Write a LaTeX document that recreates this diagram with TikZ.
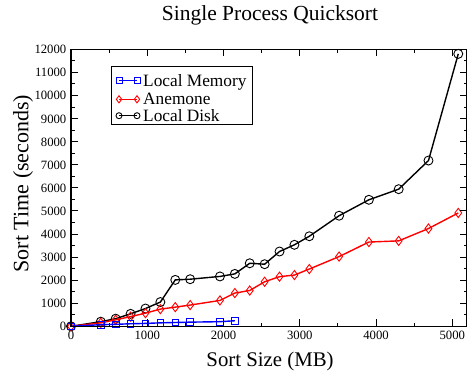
\documentclass[tikz,border=0pt]{standalone}
\usepackage{fontspec}
\setmainfont{Liberation Serif}
\usetikzlibrary{plotmarks}
\begin{document}
\begin{tikzpicture}[x=1pt,y=-1pt,
  frame/.style={line width=1.1pt},
  tickmark/.style={line width=0.9pt},
  ticklab/.style={font=\fontsize{12.7}{14}\selectfont, inner sep=0pt},
  biglab/.style={inner sep=0pt},
  legtext/.style={font=\fontsize{17.3}{19}\selectfont, anchor=base west, inner sep=0pt},
  memline/.style={blue, line width=1.4pt, mark=square, mark size=3.3pt, mark options={solid, line width=0.9pt}},
  aneline/.style={red, line width=1.4pt, mark=diamond, mark size=4.6pt, mark options={solid, line width=0.9pt}},
  diskline/.style={black, line width=1.4pt, mark=o, mark size=4.5pt, mark options={solid, line width=0.9pt}}
]
\useasboundingbox (0,0) rectangle (467,375);

% title and axis labels
\node[biglab, anchor=base, font=\fontsize{21.5}{24}\selectfont] (title) at (270,20.7) {Single Process Quicksort};
\node[biglab, anchor=base, font=\fontsize{20.8}{24}\selectfont] (xlabel) at (270,366.7) {Sort Size (MB)};
\node[biglab, anchor=base, rotate=90, font=\fontsize{22}{24}\selectfont] (ylabel) at (28.3,183.5) {Sort Time (seconds)};

\begin{scope}[shift={(71,326.3)}, x=0.07626pt, y=0.023083pt]
  % data
  \draw[diskline] plot coordinates {(0,0) (390.6,200) (585.9,330) (781.25,540) (976.6,770) (1171.9,1050) (1367.2,2010) (1562.5,2040) (1953.1,2160) (2148.4,2270) (2343.75,2730) (2539.1,2690) (2734.4,3240) (2929.7,3530) (3125,3900) (3515.6,4790) (3906.25,5480) (4296.9,5940) (4687.5,7180) (5078.1,11800)};
  \draw[aneline] plot coordinates {(0,0) (390.6,150) (585.9,280) (781.25,420) (976.6,570) (1171.9,745) (1367.2,830) (1562.5,920) (1953.1,1120) (2148.4,1440) (2343.75,1550) (2539.1,1930) (2734.4,2150) (2929.7,2220) (3125,2480) (3515.6,3020) (3906.25,3650) (4296.9,3700) (4687.5,4235) (5078.1,4910)};
  \draw[memline] plot coordinates {(0,0) (390.6,70) (585.9,85) (781.25,110) (976.6,125) (1171.9,150) (1367.2,165) (1563,180) (1953.1,200) (2148.4,240)};

  % ticks x
  \foreach \v in {0,1000,...,5000} {
    \draw[tickmark] (\v,0) -- ++(0pt,7pt);
    \draw[tickmark] (\v,12000) -- ++(0pt,-7pt);
    \node[ticklab, anchor=base] (xt\v) at ([yshift=-13.2pt]\v,0) {\v};
  }
  \foreach \v in {500,1500,...,4500} {
    \draw[tickmark] (\v,0) -- ++(0pt,3.5pt);
    \draw[tickmark] (\v,12000) -- ++(0pt,-3.5pt);
  }
  % ticks y
  \foreach \v in {0,1000,...,12000} {
    \draw[tickmark] (0,\v) -- ++(7pt,0pt);
    \draw[tickmark] (5193,\v) -- ++(-7pt,0pt);
    \node[ticklab, anchor=base east] (yt\v) at ([xshift=-4.5pt,yshift=-4.5pt]0,\v) {\v};
  }
  \foreach \v in {500,1500,...,11500} {
    \draw[tickmark] (0,\v) -- ++(3.5pt,0pt);
    \draw[tickmark] (5193,\v) -- ++(-3.5pt,0pt);
  }
\end{scope}

% frame
\draw[frame] (71,49.3) rectangle (467,326.3);

% legend
\draw[line width=0.9pt, fill=white] (111,66.7) rectangle (252.7,124);
\draw[memline, mark size=3pt] plot coordinates {(119,80.7) (137,80.7)};
\draw[aneline, mark size=3.6pt] plot coordinates {(119,99.3) (137,99.3)};
\draw[diskline, mark size=3pt] plot coordinates {(119,115.7) (137,115.7)};
\node[legtext] (lmem) at (143,86.5) {Local Memory};
\node[legtext] (lane) at (143,104.8) {Anemone};
\node[legtext] (ldisk) at (143,121.5) {Local Disk};
\end{tikzpicture}
\end{document}
